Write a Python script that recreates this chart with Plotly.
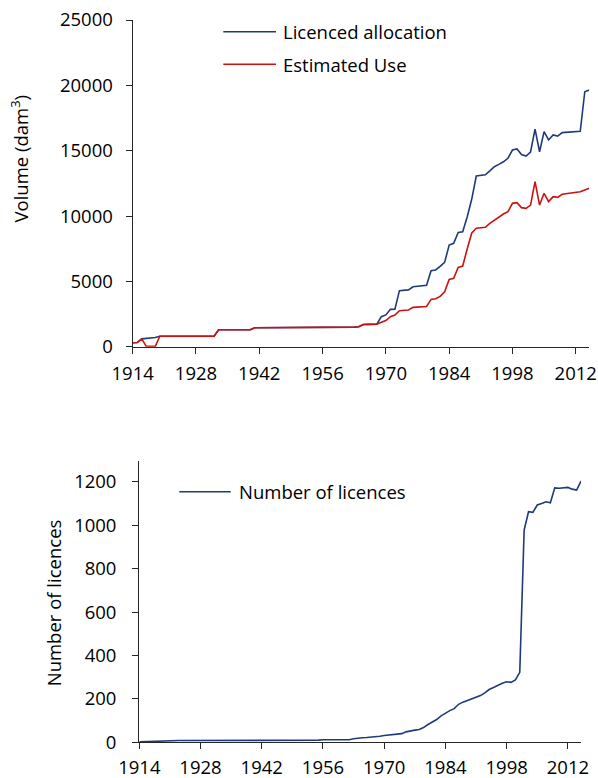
import plotly.graph_objects as go

# ---- data -------------------------------------------------------------
years = list(range(1914, 2016))

licenced_allocation = (
    [300, 320, 600, 640, 650, 700, 800]
    + [800] * 12
    + [1300] * 8
    + [1450] * 20
    + [1460, 1480, 1500, 1530, 1700, 1705, 1710, 1720,
       2300, 2430, 2860, 2870, 4290, 4320, 4350, 4590, 4640, 4660, 4700,
       5820, 5870, 6150, 6450, 7780, 7910, 8750, 8800, 9950, 11300,
       13060, 13100, 13150, 13450, 13770, 13950, 14150, 14420, 15050, 15130,
       14700, 14590, 14900, 16650, 14920, 16460, 15820, 16200, 16120, 16380,
       16400, 16450, 16470, 16480, 19510, 19640]
)

estimated_use = (
    [300, 320, 600, 30, 30, 30, 800]
    + [800] * 12
    + [1300] * 8
    + [1450] * 20
    + [1460, 1480, 1500, 1530, 1700, 1705, 1710, 1720,
       1870, 2000, 2300, 2420, 2750, 2780, 2810, 3010, 3030, 3050, 3080,
       3620, 3670, 3850, 4200, 5150, 5230, 6070, 6170, 7500, 8700,
       9060, 9100, 9140, 9440, 9700, 9950, 10150, 10330, 10970, 11020,
       10640, 10590, 10840, 12630, 10840, 11740, 11100, 11480, 11430, 11660,
       11720, 11760, 11790, 11850, 11990, 12120]
)

number_of_licences = (
    [2, 3, 4, 5, 6, 7, 7]
    + [8] * 20
    + [10] * 15
    + [12] * 7
    + [16, 20, 21, 22, 23, 25, 28, 31, 33, 34, 35, 40, 48, 53, 56, 59, 68,
       82, 92, 105, 122, 135, 146, 155, 175, 185, 193, 200, 207, 215, 228,
       243, 252, 264, 272, 279, 276, 287, 322, 978, 1062, 1059, 1093, 1100,
       1108, 1103, 1172, 1170, 1172, 1174, 1166, 1162, 1203]
)

year_ticks = [1914, 1928, 1942, 1956, 1970, 1984, 1998, 2012]
volume_ticks = [0, 5000, 10000, 15000, 20000, 25000]
licence_ticks = [0, 200, 400, 600, 800, 1000, 1200]

# ---- styling ----------------------------------------------------------
W, H = 598, 778
FONT = "Open Sans"
FS = 18.5
NAVY = "#1f3a7a"
RED = "#cc1111"
AXIS = "#262626"


def px(x):
    return x / W


def py(y):
    return 1 - y / H


fig = go.Figure()

fig.add_trace(go.Scatter(x=years, y=licenced_allocation, mode="lines",
                         line=dict(color=NAVY, width=1.6),
                         name="Licenced allocation", xaxis="x", yaxis="y"))
fig.add_trace(go.Scatter(x=years, y=estimated_use, mode="lines",
                         line=dict(color=RED, width=1.6),
                         name="Estimated Use", xaxis="x", yaxis="y"))
fig.add_trace(go.Scatter(x=years, y=number_of_licences, mode="lines",
                         line=dict(color=NAVY, width=1.6),
                         name="Number of licences", xaxis="x2", yaxis="y2"))

axis_common = dict(
    showline=True, linecolor=AXIS, linewidth=1.3,
    ticks="outside", ticklen=6, tickwidth=1.3, tickcolor=AXIS,
    showgrid=False, zeroline=False, automargin=False,
    tickfont=dict(family=FONT, size=FS, color="black"),
)

fig.update_layout(
    width=W, height=H,
    margin=dict(l=0, r=0, t=0, b=0),
    paper_bgcolor="white", plot_bgcolor="white",
    showlegend=False,
    font=dict(family=FONT, size=FS, color="black"),
    xaxis=dict(domain=[px(132.7), px(589.3)], range=[1914, 2015],
               tickvals=year_ticks, ticktext=[str(v) for v in year_ticks],
               anchor="y", ticklabelstandoff=4, **axis_common),
    yaxis=dict(domain=[py(346.7), py(20)], range=[0, 25000],
               tickvals=volume_ticks, ticktext=[str(v) for v in volume_ticks],
               anchor="x", ticklabelstandoff=9, **axis_common),
    xaxis2=dict(domain=[px(139.3), px(581)], range=[1914, 2015],
                tickvals=year_ticks, ticktext=[str(v) for v in year_ticks],
                anchor="y2", ticklabelstandoff=2, **axis_common),
    yaxis2=dict(domain=[py(742.3), py(460.7)], range=[0, 1297],
                tickvals=licence_ticks,
                ticktext=[str(v) for v in licence_ticks],
                anchor="x2", ticklabelstandoff=12, **axis_common),
)

# axis titles
fig.add_annotation(text="Volume (dam<sup>3</sup>)", textangle=-90,
                   x=px(20), y=py(158.5), xref="paper", yref="paper",
                   xanchor="center", yanchor="middle",
                   showarrow=False, font=dict(family=FONT, size=FS))
fig.add_annotation(text="Number of licences", textangle=-90,
                   x=px(53.3), y=py(603), xref="paper", yref="paper",
                   xanchor="center", yanchor="middle",
                   showarrow=False, font=dict(family=FONT, size=FS))

# legend keys
legend_items = [
    ("Licenced allocation", NAVY, 223.3, 276, 281, 31.7),
    ("Estimated Use", RED, 223.3, 276, 281, 64.3),
    ("Number of licences", NAVY, 179.3, 230.7, 236.7, 491.7),
]
for label, color, x0, x1, xt, yk in legend_items:
    fig.add_shape(type="line", xref="paper", yref="paper",
                  x0=px(x0), x1=px(x1), y0=py(yk), y1=py(yk),
                  line=dict(color=color, width=1.6))
    fig.add_annotation(text=label, x=px(xt), y=py(yk), xref="paper",
                       yref="paper", xanchor="left", yanchor="middle",
                       showarrow=False, font=dict(family=FONT, size=FS))

fig.write_html("out.html")
